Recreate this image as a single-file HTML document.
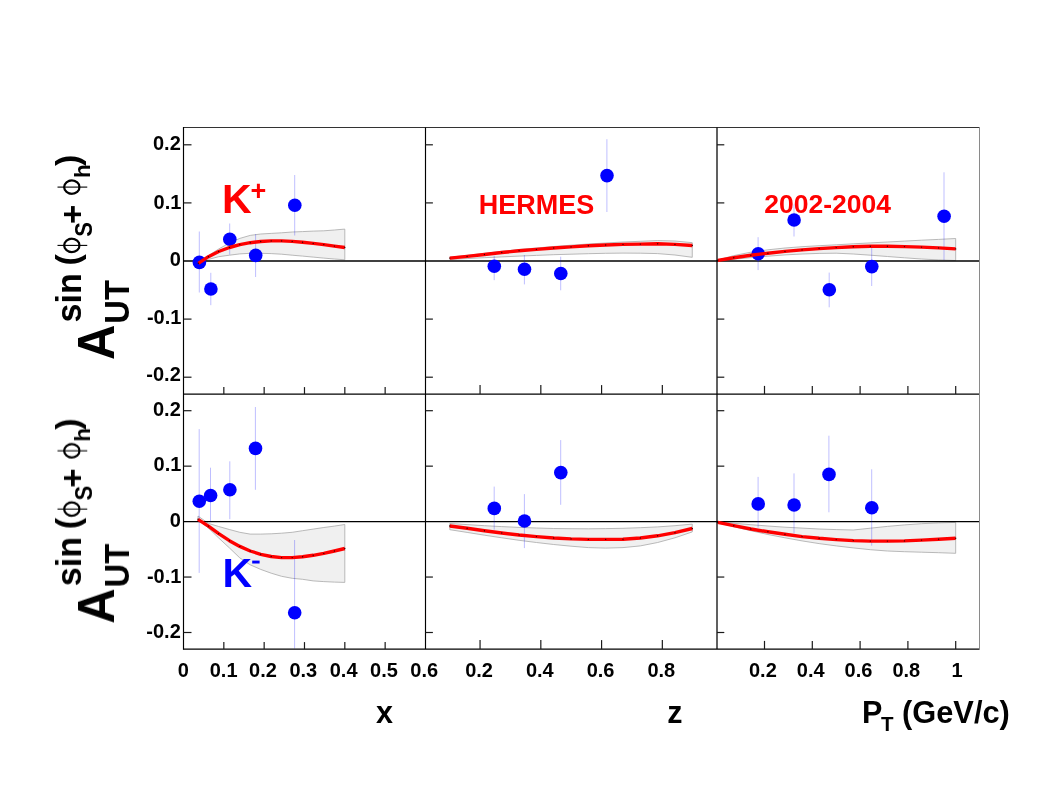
<!DOCTYPE html>
<html><head><meta charset="utf-8"><title>chart</title>
<style>
html,body{margin:0;padding:0;background:#fff;}
body{width:1044px;height:807px;overflow:hidden;position:relative;font-family:"Liberation Sans",sans-serif;}
</style></head><body>
<svg width="1044" height="807" viewBox="0 0 1044 807" style="position:absolute;left:0;top:0;display:block">
<rect x="0" y="0" width="1044" height="807" fill="#ffffff"/>
<polygon points="198.4,262.5 208.4,255.6 218.7,249 229.4,243 239.8,238.4 250.2,235.4 260.7,234 271.2,233.4 281.6,232.8 292.2,232 302.6,231.6 313.2,231.1 323.8,230.8 334.4,230 344.8,229.1 344.8,259.8 334.4,259 323.8,258.1 313.2,257.1 302.6,256.1 292.2,255.2 281.6,254.2 271.2,253.6 260.7,253.3 250.2,253.3 239.8,253.9 229.4,255.2 218.7,256.7 208.4,259.4 198.4,263.7" fill="#f0f0f0" stroke="#a8a8a8" stroke-width="0.8" stroke-linejoin="round"/>
<polygon points="449.8,257.2 467.12,255.4 484.44,253.4 501.76,251.3 519.08,249.5 536.4,248 553.72,246.5 571.04,245.2 588.36,244 605.68,243 623,242 640.32,241.3 657.64,240.6 674.96,241 692.28,242.7 692.28,257.3 674.96,255 657.64,253.6 640.32,253.2 623,253.1 605.68,253.3 588.36,253.7 571.04,254.2 553.72,254.7 536.4,255.4 519.08,256.1 501.76,256.9 484.44,257.7 467.12,258.6 449.8,259.4" fill="#f0f0f0" stroke="#a8a8a8" stroke-width="0.8" stroke-linejoin="round"/>
<polygon points="716.7,260.3 733.77,255.6 750.84,252.2 767.91,249.8 784.98,248 802.05,246.7 819.12,245.7 836.19,244.8 853.26,243.8 870.33,242.9 887.4,242 904.47,241.1 921.54,240.2 938.61,239.4 955.68,238.5 955.68,260.5 938.61,259.9 921.54,259 904.47,257.8 887.4,256.5 870.33,255.2 853.26,254 836.19,253.2 819.12,253.4 802.05,254 784.98,254.9 767.91,256.2 750.84,257.7 733.77,259.2 716.7,260.8" fill="#f0f0f0" stroke="#a8a8a8" stroke-width="0.8" stroke-linejoin="round"/>
<polygon points="198,516 208.4,523.4 218.7,526.5 229.4,529.5 239.8,532.3 250.2,534.1 260.7,534.1 271.2,533.8 281.6,533.2 292.2,532.3 302.6,530.7 313.2,529.1 323.8,527.5 334.4,526.1 344.8,524.5 344.8,582.4 334.4,582.1 323.8,581.6 313.2,580.9 302.6,579.3 292.2,578.3 281.6,576.3 271.2,573.2 260.7,569.4 250.2,564.8 239.8,557.9 229.4,547.9 218.7,538 208.4,528 198,519.8" fill="#f0f0f0" stroke="#a8a8a8" stroke-width="0.8" stroke-linejoin="round"/>
<polygon points="449.8,523.5 467.12,524.6 484.44,525.7 501.76,526.6 519.08,527.4 536.4,528 553.72,528.5 571.04,528.7 588.36,528.8 605.68,528.6 623,528.3 640.32,527.7 657.64,526.9 674.96,525.7 692.28,524.1 692.28,531.9 674.96,537.8 657.64,542.5 640.32,545.9 623,547.6 605.68,548.1 588.36,547.6 571.04,546.2 553.72,544.5 536.4,542.5 519.08,540.3 501.76,537.8 484.44,535.2 467.12,532.4 449.8,529.7" fill="#f0f0f0" stroke="#a8a8a8" stroke-width="0.8" stroke-linejoin="round"/>
<polygon points="716.7,521.9 733.77,523.3 750.84,524.7 767.91,526 784.98,527.2 802.05,528.1 819.12,529 836.19,529.6 853.26,530 870.33,528.2 887.4,526.4 904.47,524.9 921.54,523.7 938.61,522.9 955.68,522.4 955.68,553.3 938.61,552.7 921.54,552.2 904.47,551.7 887.4,551 870.33,549.7 853.26,547.9 836.19,545.9 819.12,543.6 802.05,540.9 784.98,537.8 767.91,534.5 750.84,530.7 733.77,526.7 716.7,522.4" fill="#f0f0f0" stroke="#a8a8a8" stroke-width="0.8" stroke-linejoin="round"/>
<line x1="183.5" y1="261" x2="979.5" y2="261" stroke="#000" stroke-width="1.3"/>
<line x1="183.5" y1="521.6" x2="979.5" y2="521.6" stroke="#000" stroke-width="1.15"/>
<line x1="199.3" y1="231.5" x2="199.3" y2="292.5" stroke="#0000ff" stroke-width="0.26"/>
<line x1="210.8" y1="272.8" x2="210.8" y2="305.2" stroke="#0000ff" stroke-width="0.26"/>
<line x1="229.7" y1="223.5" x2="229.7" y2="254.6" stroke="#0000ff" stroke-width="0.26"/>
<line x1="255.6" y1="234" x2="255.6" y2="277" stroke="#0000ff" stroke-width="0.26"/>
<line x1="294.7" y1="175" x2="294.7" y2="235.5" stroke="#0000ff" stroke-width="0.26"/>
<circle cx="199.4" cy="262.4" r="6.8" fill="#0000ff"/>
<circle cx="210.9" cy="289" r="6.8" fill="#0000ff"/>
<circle cx="229.8" cy="239.2" r="6.8" fill="#0000ff"/>
<circle cx="255.7" cy="255.4" r="6.8" fill="#0000ff"/>
<circle cx="294.8" cy="205.3" r="6.8" fill="#0000ff"/>
<line x1="494.2" y1="255.9" x2="494.2" y2="280.2" stroke="#0000ff" stroke-width="0.26"/>
<line x1="524.4" y1="255" x2="524.4" y2="284.4" stroke="#0000ff" stroke-width="0.26"/>
<line x1="560.7" y1="256.7" x2="560.7" y2="290.3" stroke="#0000ff" stroke-width="0.26"/>
<line x1="606.9" y1="139.2" x2="606.9" y2="212" stroke="#0000ff" stroke-width="0.26"/>
<circle cx="494.3" cy="266.2" r="6.8" fill="#0000ff"/>
<circle cx="524.5" cy="269.3" r="6.8" fill="#0000ff"/>
<circle cx="560.8" cy="273.5" r="6.8" fill="#0000ff"/>
<circle cx="607" cy="175.6" r="6.8" fill="#0000ff"/>
<line x1="758.1" y1="237.2" x2="758.1" y2="270.1" stroke="#0000ff" stroke-width="0.26"/>
<line x1="794" y1="204.4" x2="794" y2="236.5" stroke="#0000ff" stroke-width="0.26"/>
<line x1="829.2" y1="272.6" x2="829.2" y2="307.3" stroke="#0000ff" stroke-width="0.26"/>
<line x1="871.7" y1="247.3" x2="871.7" y2="286" stroke="#0000ff" stroke-width="0.26"/>
<line x1="944" y1="172.3" x2="944" y2="260" stroke="#0000ff" stroke-width="0.26"/>
<circle cx="758.2" cy="253.7" r="6.8" fill="#0000ff"/>
<circle cx="794.1" cy="220" r="6.8" fill="#0000ff"/>
<circle cx="829.3" cy="289.8" r="6.8" fill="#0000ff"/>
<circle cx="871.8" cy="266.6" r="6.8" fill="#0000ff"/>
<circle cx="944.1" cy="216.2" r="6.8" fill="#0000ff"/>
<line x1="199.2" y1="429.1" x2="199.2" y2="572.9" stroke="#0000ff" stroke-width="0.26"/>
<line x1="210.5" y1="467.7" x2="210.5" y2="521.4" stroke="#0000ff" stroke-width="0.26"/>
<line x1="229.8" y1="461.3" x2="229.8" y2="519.2" stroke="#0000ff" stroke-width="0.26"/>
<line x1="255.4" y1="407" x2="255.4" y2="489.8" stroke="#0000ff" stroke-width="0.26"/>
<line x1="294.6" y1="540" x2="294.6" y2="648.6" stroke="#0000ff" stroke-width="0.26"/>
<circle cx="199.3" cy="501.2" r="6.8" fill="#0000ff"/>
<circle cx="210.6" cy="495.5" r="6.8" fill="#0000ff"/>
<circle cx="229.9" cy="489.8" r="6.8" fill="#0000ff"/>
<circle cx="255.5" cy="448.4" r="6.8" fill="#0000ff"/>
<circle cx="294.7" cy="612.7" r="6.8" fill="#0000ff"/>
<line x1="494.2" y1="486.6" x2="494.2" y2="529.7" stroke="#0000ff" stroke-width="0.26"/>
<line x1="524.4" y1="494.1" x2="524.4" y2="548.1" stroke="#0000ff" stroke-width="0.26"/>
<line x1="560.7" y1="440.1" x2="560.7" y2="504.8" stroke="#0000ff" stroke-width="0.26"/>
<circle cx="494.3" cy="508.4" r="6.8" fill="#0000ff"/>
<circle cx="524.5" cy="521" r="6.8" fill="#0000ff"/>
<circle cx="560.8" cy="472.6" r="6.8" fill="#0000ff"/>
<line x1="758.1" y1="476.9" x2="758.1" y2="527.5" stroke="#0000ff" stroke-width="0.26"/>
<line x1="794" y1="473.4" x2="794" y2="533.3" stroke="#0000ff" stroke-width="0.26"/>
<line x1="828.9" y1="435.7" x2="828.9" y2="512.3" stroke="#0000ff" stroke-width="0.26"/>
<line x1="871.7" y1="469.3" x2="871.7" y2="545.7" stroke="#0000ff" stroke-width="0.26"/>
<circle cx="758.2" cy="503.9" r="6.8" fill="#0000ff"/>
<circle cx="794.1" cy="505" r="6.8" fill="#0000ff"/>
<circle cx="829" cy="474.4" r="6.8" fill="#0000ff"/>
<circle cx="871.8" cy="507.7" r="6.8" fill="#0000ff"/>
<polyline points="198.4,263.3 208.4,256.7 218.7,251.5 229.4,247.5 239.8,244.6 250.2,242.7 260.7,241.5 271.2,240.9 281.6,240.9 292.2,241.4 302.6,242.3 313.2,243.4 323.8,244.6 334.4,246.1 344.8,247.5" fill="none" stroke="#ff0000" stroke-width="3.4" stroke-linejoin="round"/>
<circle cx="198.4" cy="263.3" r="0.7" fill="#400000"/>
<circle cx="208.4" cy="256.7" r="0.7" fill="#400000"/>
<circle cx="218.7" cy="251.5" r="0.7" fill="#400000"/>
<circle cx="229.4" cy="247.5" r="0.7" fill="#400000"/>
<circle cx="239.8" cy="244.6" r="0.7" fill="#400000"/>
<circle cx="250.2" cy="242.7" r="0.7" fill="#400000"/>
<circle cx="260.7" cy="241.5" r="0.7" fill="#400000"/>
<circle cx="271.2" cy="240.9" r="0.7" fill="#400000"/>
<circle cx="281.6" cy="240.9" r="0.7" fill="#400000"/>
<circle cx="292.2" cy="241.4" r="0.7" fill="#400000"/>
<circle cx="302.6" cy="242.3" r="0.7" fill="#400000"/>
<circle cx="313.2" cy="243.4" r="0.7" fill="#400000"/>
<circle cx="323.8" cy="244.6" r="0.7" fill="#400000"/>
<circle cx="334.4" cy="246.1" r="0.7" fill="#400000"/>
<circle cx="344.8" cy="247.5" r="0.7" fill="#400000"/>
<polyline points="449.8,258.1 467.12,256.4 484.44,254.5 501.76,252.5 519.08,250.8 536.4,249.4 553.72,248 571.04,246.9 588.36,245.8 605.68,245 623,244.4 640.32,244.1 657.64,243.8 674.96,244.4 692.28,245.5" fill="none" stroke="#ff0000" stroke-width="3.4" stroke-linejoin="round"/>
<circle cx="449.8" cy="258.1" r="0.7" fill="#400000"/>
<circle cx="467.12" cy="256.4" r="0.7" fill="#400000"/>
<circle cx="484.44" cy="254.5" r="0.7" fill="#400000"/>
<circle cx="501.76" cy="252.5" r="0.7" fill="#400000"/>
<circle cx="519.08" cy="250.8" r="0.7" fill="#400000"/>
<circle cx="536.4" cy="249.4" r="0.7" fill="#400000"/>
<circle cx="553.72" cy="248" r="0.7" fill="#400000"/>
<circle cx="571.04" cy="246.9" r="0.7" fill="#400000"/>
<circle cx="588.36" cy="245.8" r="0.7" fill="#400000"/>
<circle cx="605.68" cy="245" r="0.7" fill="#400000"/>
<circle cx="623" cy="244.4" r="0.7" fill="#400000"/>
<circle cx="640.32" cy="244.1" r="0.7" fill="#400000"/>
<circle cx="657.64" cy="243.8" r="0.7" fill="#400000"/>
<circle cx="674.96" cy="244.4" r="0.7" fill="#400000"/>
<circle cx="692.28" cy="245.5" r="0.7" fill="#400000"/>
<polyline points="717.8,260.32 733.77,257.7 750.84,255.2 767.91,253.2 784.98,251.4 802.05,249.9 819.12,248.6 836.19,247.6 853.26,246.8 870.33,246.3 887.4,246.3 904.47,246.6 921.54,247.1 938.61,247.9 955.68,248.9" fill="none" stroke="#ff0000" stroke-width="3.4" stroke-linejoin="round"/>
<circle cx="717.8" cy="260.32" r="0.7" fill="#400000"/>
<circle cx="733.77" cy="257.7" r="0.7" fill="#400000"/>
<circle cx="750.84" cy="255.2" r="0.7" fill="#400000"/>
<circle cx="767.91" cy="253.2" r="0.7" fill="#400000"/>
<circle cx="784.98" cy="251.4" r="0.7" fill="#400000"/>
<circle cx="802.05" cy="249.9" r="0.7" fill="#400000"/>
<circle cx="819.12" cy="248.6" r="0.7" fill="#400000"/>
<circle cx="836.19" cy="247.6" r="0.7" fill="#400000"/>
<circle cx="853.26" cy="246.8" r="0.7" fill="#400000"/>
<circle cx="870.33" cy="246.3" r="0.7" fill="#400000"/>
<circle cx="887.4" cy="246.3" r="0.7" fill="#400000"/>
<circle cx="904.47" cy="246.6" r="0.7" fill="#400000"/>
<circle cx="921.54" cy="247.1" r="0.7" fill="#400000"/>
<circle cx="938.61" cy="247.9" r="0.7" fill="#400000"/>
<circle cx="955.68" cy="248.9" r="0.7" fill="#400000"/>
<polyline points="198,519.3 208.4,526.1 218.7,533.7 229.4,540.7 239.8,546.4 250.2,551 260.7,554.3 271.2,556.5 281.6,557.6 292.2,557.6 302.6,556.8 313.2,555.3 323.8,553.4 334.4,551 344.8,548.5" fill="none" stroke="#ff0000" stroke-width="3.4" stroke-linejoin="round"/>
<circle cx="198" cy="519.3" r="0.7" fill="#400000"/>
<circle cx="208.4" cy="526.1" r="0.7" fill="#400000"/>
<circle cx="218.7" cy="533.7" r="0.7" fill="#400000"/>
<circle cx="229.4" cy="540.7" r="0.7" fill="#400000"/>
<circle cx="239.8" cy="546.4" r="0.7" fill="#400000"/>
<circle cx="250.2" cy="551" r="0.7" fill="#400000"/>
<circle cx="260.7" cy="554.3" r="0.7" fill="#400000"/>
<circle cx="271.2" cy="556.5" r="0.7" fill="#400000"/>
<circle cx="281.6" cy="557.6" r="0.7" fill="#400000"/>
<circle cx="292.2" cy="557.6" r="0.7" fill="#400000"/>
<circle cx="302.6" cy="556.8" r="0.7" fill="#400000"/>
<circle cx="313.2" cy="555.3" r="0.7" fill="#400000"/>
<circle cx="323.8" cy="553.4" r="0.7" fill="#400000"/>
<circle cx="334.4" cy="551" r="0.7" fill="#400000"/>
<circle cx="344.8" cy="548.5" r="0.7" fill="#400000"/>
<polyline points="449.8,526 467.12,528.3 484.44,530.8 501.76,533 519.08,535 536.4,536.6 553.72,538 571.04,538.9 588.36,539.4 605.68,539.4 623,539.2 640.32,538 657.64,535.8 674.96,532.7 692.28,528.5" fill="none" stroke="#ff0000" stroke-width="3.4" stroke-linejoin="round"/>
<circle cx="449.8" cy="526" r="0.7" fill="#400000"/>
<circle cx="467.12" cy="528.3" r="0.7" fill="#400000"/>
<circle cx="484.44" cy="530.8" r="0.7" fill="#400000"/>
<circle cx="501.76" cy="533" r="0.7" fill="#400000"/>
<circle cx="519.08" cy="535" r="0.7" fill="#400000"/>
<circle cx="536.4" cy="536.6" r="0.7" fill="#400000"/>
<circle cx="553.72" cy="538" r="0.7" fill="#400000"/>
<circle cx="571.04" cy="538.9" r="0.7" fill="#400000"/>
<circle cx="588.36" cy="539.4" r="0.7" fill="#400000"/>
<circle cx="605.68" cy="539.4" r="0.7" fill="#400000"/>
<circle cx="623" cy="539.2" r="0.7" fill="#400000"/>
<circle cx="640.32" cy="538" r="0.7" fill="#400000"/>
<circle cx="657.64" cy="535.8" r="0.7" fill="#400000"/>
<circle cx="674.96" cy="532.7" r="0.7" fill="#400000"/>
<circle cx="692.28" cy="528.5" r="0.7" fill="#400000"/>
<polyline points="717.8,522.33 733.77,525.7 750.84,529 767.91,531.8 784.98,534.3 802.05,536.6 819.12,538.3 836.19,539.6 853.26,540.6 870.33,541.1 887.4,541.1 904.47,540.9 921.54,540.1 938.61,539.3 955.68,538.3" fill="none" stroke="#ff0000" stroke-width="3.4" stroke-linejoin="round"/>
<circle cx="717.8" cy="522.33" r="0.7" fill="#400000"/>
<circle cx="733.77" cy="525.7" r="0.7" fill="#400000"/>
<circle cx="750.84" cy="529" r="0.7" fill="#400000"/>
<circle cx="767.91" cy="531.8" r="0.7" fill="#400000"/>
<circle cx="784.98" cy="534.3" r="0.7" fill="#400000"/>
<circle cx="802.05" cy="536.6" r="0.7" fill="#400000"/>
<circle cx="819.12" cy="538.3" r="0.7" fill="#400000"/>
<circle cx="836.19" cy="539.6" r="0.7" fill="#400000"/>
<circle cx="853.26" cy="540.6" r="0.7" fill="#400000"/>
<circle cx="870.33" cy="541.1" r="0.7" fill="#400000"/>
<circle cx="887.4" cy="541.1" r="0.7" fill="#400000"/>
<circle cx="904.47" cy="540.9" r="0.7" fill="#400000"/>
<circle cx="921.54" cy="540.1" r="0.7" fill="#400000"/>
<circle cx="938.61" cy="539.3" r="0.7" fill="#400000"/>
<circle cx="955.68" cy="538.3" r="0.7" fill="#400000"/>
<line x1="183.5" y1="127.5" x2="979.5" y2="127.5" stroke="#333" stroke-width="1"/>
<line x1="183.5" y1="394.1" x2="979.5" y2="394.1" stroke="#000" stroke-width="1.25"/>
<line x1="183.5" y1="649.1" x2="979.5" y2="649.1" stroke="#000" stroke-width="1.25"/>
<line x1="183.5" y1="127" x2="183.5" y2="649.7" stroke="#000" stroke-width="1.15"/>
<line x1="425.5" y1="127.5" x2="425.5" y2="649.1" stroke="#000" stroke-width="1.15"/>
<line x1="717" y1="127.5" x2="717" y2="649.1" stroke="#000" stroke-width="1.25"/>
<line x1="979.5" y1="127" x2="979.5" y2="649.6" stroke="#8a8a8a" stroke-width="1"/>
<line x1="183.5" y1="377.2" x2="191.5" y2="377.2" stroke="#1a1a1a" stroke-width="1.2"/>
<line x1="425.5" y1="377.2" x2="432.9" y2="377.2" stroke="#1a1a1a" stroke-width="1.2"/>
<line x1="717" y1="377.2" x2="724.3" y2="377.2" stroke="#1a1a1a" stroke-width="1.2"/>
<line x1="183.5" y1="632.5" x2="191.5" y2="632.5" stroke="#1a1a1a" stroke-width="1.2"/>
<line x1="425.5" y1="632.5" x2="432.9" y2="632.5" stroke="#1a1a1a" stroke-width="1.2"/>
<line x1="717" y1="632.5" x2="724.3" y2="632.5" stroke="#1a1a1a" stroke-width="1.2"/>
<line x1="183.5" y1="319.1" x2="191.5" y2="319.1" stroke="#1a1a1a" stroke-width="1.2"/>
<line x1="425.5" y1="319.1" x2="432.9" y2="319.1" stroke="#1a1a1a" stroke-width="1.2"/>
<line x1="717" y1="319.1" x2="724.3" y2="319.1" stroke="#1a1a1a" stroke-width="1.2"/>
<line x1="183.5" y1="577.05" x2="191.5" y2="577.05" stroke="#1a1a1a" stroke-width="1.2"/>
<line x1="425.5" y1="577.05" x2="432.9" y2="577.05" stroke="#1a1a1a" stroke-width="1.2"/>
<line x1="717" y1="577.05" x2="724.3" y2="577.05" stroke="#1a1a1a" stroke-width="1.2"/>
<line x1="183.5" y1="202.9" x2="191.5" y2="202.9" stroke="#1a1a1a" stroke-width="1.2"/>
<line x1="425.5" y1="202.9" x2="432.9" y2="202.9" stroke="#1a1a1a" stroke-width="1.2"/>
<line x1="717" y1="202.9" x2="724.3" y2="202.9" stroke="#1a1a1a" stroke-width="1.2"/>
<line x1="183.5" y1="466.15" x2="191.5" y2="466.15" stroke="#1a1a1a" stroke-width="1.2"/>
<line x1="425.5" y1="466.15" x2="432.9" y2="466.15" stroke="#1a1a1a" stroke-width="1.2"/>
<line x1="717" y1="466.15" x2="724.3" y2="466.15" stroke="#1a1a1a" stroke-width="1.2"/>
<line x1="183.5" y1="144.8" x2="191.5" y2="144.8" stroke="#1a1a1a" stroke-width="1.2"/>
<line x1="425.5" y1="144.8" x2="432.9" y2="144.8" stroke="#1a1a1a" stroke-width="1.2"/>
<line x1="717" y1="144.8" x2="724.3" y2="144.8" stroke="#1a1a1a" stroke-width="1.2"/>
<line x1="183.5" y1="410.7" x2="191.5" y2="410.7" stroke="#1a1a1a" stroke-width="1.2"/>
<line x1="425.5" y1="410.7" x2="432.9" y2="410.7" stroke="#1a1a1a" stroke-width="1.2"/>
<line x1="717" y1="410.7" x2="724.3" y2="410.7" stroke="#1a1a1a" stroke-width="1.2"/>
<line x1="223.83" y1="394.1" x2="223.83" y2="387.1" stroke="#1a1a1a" stroke-width="1.2"/>
<line x1="264.16" y1="394.1" x2="264.16" y2="387.1" stroke="#1a1a1a" stroke-width="1.2"/>
<line x1="304.49" y1="394.1" x2="304.49" y2="387.1" stroke="#1a1a1a" stroke-width="1.2"/>
<line x1="344.82" y1="394.1" x2="344.82" y2="387.1" stroke="#1a1a1a" stroke-width="1.2"/>
<line x1="385.15" y1="394.1" x2="385.15" y2="387.1" stroke="#1a1a1a" stroke-width="1.2"/>
<line x1="480.06" y1="394.1" x2="480.06" y2="385.1" stroke="#1a1a1a" stroke-width="1.2"/>
<line x1="540.82" y1="394.1" x2="540.82" y2="385.1" stroke="#1a1a1a" stroke-width="1.2"/>
<line x1="601.58" y1="394.1" x2="601.58" y2="385.1" stroke="#1a1a1a" stroke-width="1.2"/>
<line x1="662.34" y1="394.1" x2="662.34" y2="385.1" stroke="#1a1a1a" stroke-width="1.2"/>
<line x1="764.5" y1="394.1" x2="764.5" y2="385.9" stroke="#1a1a1a" stroke-width="1.2"/>
<line x1="812.3" y1="394.1" x2="812.3" y2="385.9" stroke="#1a1a1a" stroke-width="1.2"/>
<line x1="860.1" y1="394.1" x2="860.1" y2="385.9" stroke="#1a1a1a" stroke-width="1.2"/>
<line x1="907.9" y1="394.1" x2="907.9" y2="385.9" stroke="#1a1a1a" stroke-width="1.2"/>
<line x1="955.7" y1="394.1" x2="955.7" y2="385.9" stroke="#1a1a1a" stroke-width="1.2"/>
<line x1="223.83" y1="649.1" x2="223.83" y2="642.1" stroke="#1a1a1a" stroke-width="1.2"/>
<line x1="264.16" y1="649.1" x2="264.16" y2="642.1" stroke="#1a1a1a" stroke-width="1.2"/>
<line x1="304.49" y1="649.1" x2="304.49" y2="642.1" stroke="#1a1a1a" stroke-width="1.2"/>
<line x1="344.82" y1="649.1" x2="344.82" y2="642.1" stroke="#1a1a1a" stroke-width="1.2"/>
<line x1="385.15" y1="649.1" x2="385.15" y2="642.1" stroke="#1a1a1a" stroke-width="1.2"/>
<line x1="480.06" y1="649.1" x2="480.06" y2="640.1" stroke="#1a1a1a" stroke-width="1.2"/>
<line x1="540.82" y1="649.1" x2="540.82" y2="640.1" stroke="#1a1a1a" stroke-width="1.2"/>
<line x1="601.58" y1="649.1" x2="601.58" y2="640.1" stroke="#1a1a1a" stroke-width="1.2"/>
<line x1="662.34" y1="649.1" x2="662.34" y2="640.1" stroke="#1a1a1a" stroke-width="1.2"/>
<line x1="764.5" y1="649.1" x2="764.5" y2="640.9" stroke="#1a1a1a" stroke-width="1.2"/>
<line x1="812.3" y1="649.1" x2="812.3" y2="640.9" stroke="#1a1a1a" stroke-width="1.2"/>
<line x1="860.1" y1="649.1" x2="860.1" y2="640.9" stroke="#1a1a1a" stroke-width="1.2"/>
<line x1="907.9" y1="649.1" x2="907.9" y2="640.9" stroke="#1a1a1a" stroke-width="1.2"/>
<line x1="955.7" y1="649.1" x2="955.7" y2="640.9" stroke="#1a1a1a" stroke-width="1.2"/>
<g font-family="'Liberation Sans', sans-serif" font-weight="bold" fill="#000" opacity="0.999">
<g font-size="20.0" text-anchor="end">
<text x="180.8" y="149.5">0.2</text>
<text x="180.8" y="416">0.2</text>
<text x="181.4" y="208.7">0.1</text>
<text x="181.4" y="471.45">0.1</text>
<text x="180.8" y="265.95">0</text>
<text x="180.8" y="526.7">0</text>
<text x="181.4" y="324.05">-0.1</text>
<text x="181.4" y="582.75">-0.1</text>
<text x="180.8" y="381.1">-0.2</text>
<text x="180.8" y="638.1">-0.2</text>
</g>
<g font-size="20.0" text-anchor="middle">
<text x="183.3" y="677.4">0</text>
<text x="223.63" y="677.4">0.1</text>
<text x="262.96" y="677.4">0.2</text>
<text x="303.29" y="677.4">0.3</text>
<text x="343.62" y="677.4">0.4</text>
<text x="383.95" y="677.4">0.5</text>
<text x="424.28" y="677.4">0.6</text>
<text x="479.06" y="677.4">0.2</text>
<text x="539.82" y="677.4">0.4</text>
<text x="600.58" y="677.4">0.6</text>
<text x="661.34" y="677.4">0.8</text>
<text x="762.9" y="677.4">0.2</text>
<text x="810.7" y="677.4">0.4</text>
<text x="858.5" y="677.4">0.6</text>
<text x="906.3" y="677.4">0.8</text>
<text x="957" y="677.4">1</text>
</g>
<text x="375.9" y="722.8" font-size="30.5">x</text>
<text x="667.3" y="722.8" font-size="30.5">z</text>
<text x="862.1" y="722.8" font-size="30.5">P</text>
<text x="880.9" y="730.8" font-size="20.5">T</text>
<text x="902.0" y="722.8" font-size="30.8">(GeV/c)</text>
<g fill="#ff0000">
<text x="222.1" y="213.3" font-size="41">K</text>
<text x="250.6" y="200.2" font-size="27">+</text>
<text x="478.7" y="213.5" font-size="27">HERMES</text>
<text x="764.3" y="213.4" font-size="26.5">2002-2004</text>
</g>
<g fill="#0000ff">
<text x="222.4" y="587.2" font-size="41">K</text>
<rect x="252.2" y="560.6" width="7.4" height="2.9"/>
</g>
<g transform="translate(0 400) rotate(-90)">
<text transform="translate(39.9 113.6) scale(0.96 1)" font-size="51">A</text>
<text transform="translate(76.3 129.3) scale(0.945 1)" font-size="34.6">UT</text>
<text transform="translate(77.6 80.6) scale(0.96 1)" font-size="35.5">sin</text>
<text x="134.6" y="79.0" font-size="34">(</text>
<text x="233.9" y="78.8" font-size="34">)</text>
<text transform="translate(163.3 91.5) scale(0.9 1)" font-size="24.5">S</text>
<text x="221.9" y="90.2" font-size="22.5">h</text>
<text x="176.0" y="83.6" font-size="33">+</text>
<ellipse cx="154.6" cy="71.8" rx="6.7" ry="7.6" fill="none" stroke="#000" stroke-width="2.2"/>
<line x1="154.6" y1="57.6" x2="154.6" y2="87.3" stroke="#000" stroke-width="1.1"/>
<ellipse cx="212.9" cy="71.8" rx="6.7" ry="7.6" fill="none" stroke="#000" stroke-width="2.2"/>
<line x1="212.9" y1="57.6" x2="212.9" y2="87.3" stroke="#000" stroke-width="1.1"/>
</g>
<g transform="translate(0 663.7) rotate(-90)">
<text transform="translate(39.9 113.6) scale(0.96 1)" font-size="51">A</text>
<text transform="translate(76.3 129.3) scale(0.945 1)" font-size="34.6">UT</text>
<text transform="translate(77.6 80.6) scale(0.96 1)" font-size="35.5">sin</text>
<text x="134.6" y="79.0" font-size="34">(</text>
<text x="233.9" y="78.8" font-size="34">)</text>
<text transform="translate(163.3 91.5) scale(0.9 1)" font-size="24.5">S</text>
<text x="221.9" y="90.2" font-size="22.5">h</text>
<text x="176.0" y="83.6" font-size="33">+</text>
<ellipse cx="154.6" cy="71.8" rx="6.7" ry="7.6" fill="none" stroke="#000" stroke-width="2.2"/>
<line x1="154.6" y1="57.6" x2="154.6" y2="87.3" stroke="#000" stroke-width="1.1"/>
<ellipse cx="212.9" cy="71.8" rx="6.7" ry="7.6" fill="none" stroke="#000" stroke-width="2.2"/>
<line x1="212.9" y1="57.6" x2="212.9" y2="87.3" stroke="#000" stroke-width="1.1"/>
</g>
</g>
</svg>
</body></html>
